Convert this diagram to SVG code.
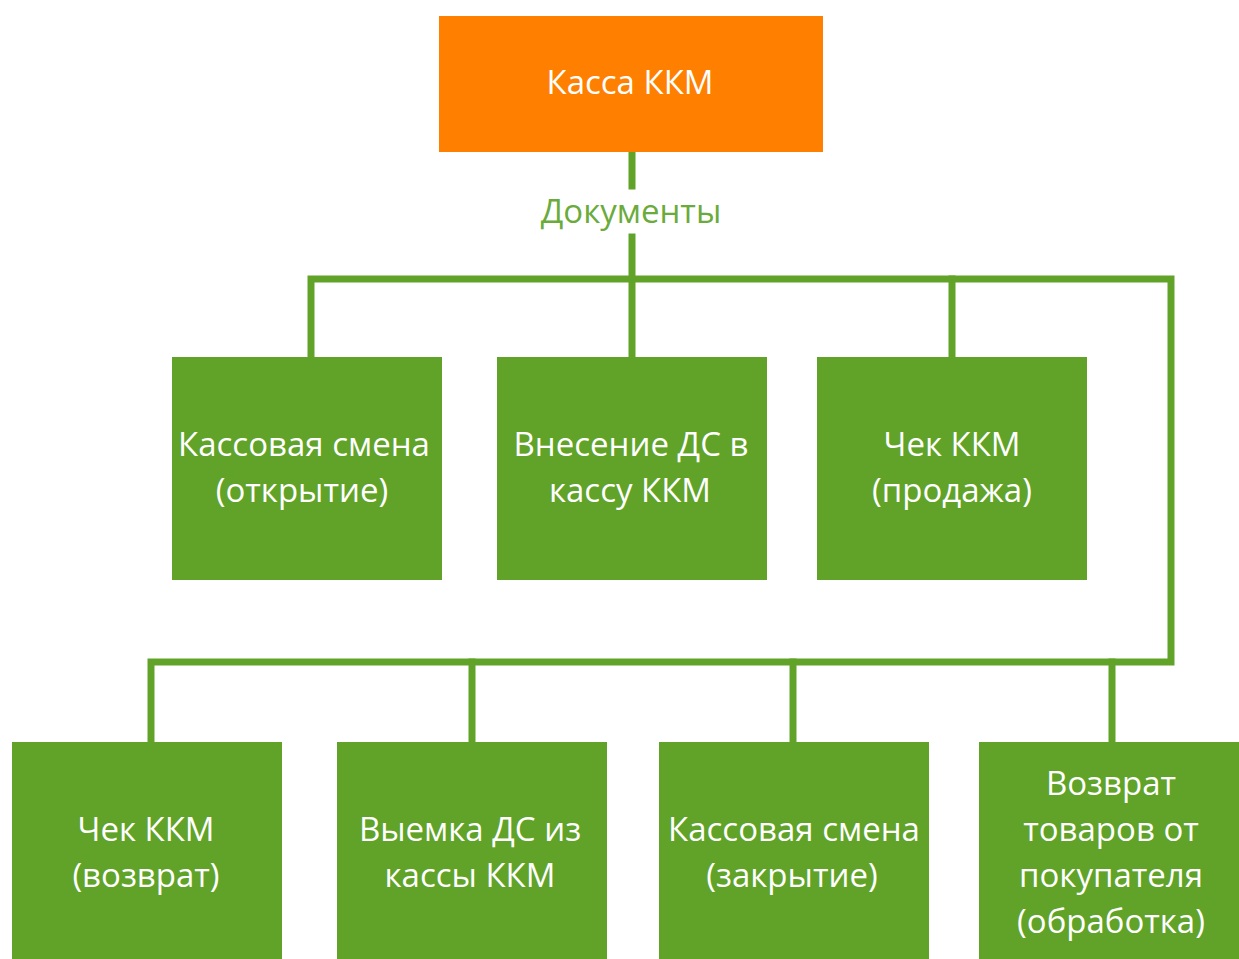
<svg xmlns="http://www.w3.org/2000/svg" width="1239" height="959" viewBox="0 0 1239 959">
<style>
.box{fill:#60a328}
.top{fill:#ff8000}
.t{font-family:"Open Sans","Noto Sans",sans-serif;font-size:33px;fill:#ffffff;text-anchor:middle}
.lbl{font-family:"Open Sans","Noto Sans",sans-serif;font-size:33px;fill:#6aab3c;text-anchor:middle}
.c{stroke:#60a328;stroke-width:7;fill:none;stroke-linecap:square}
</style>
<rect width="1239" height="959" fill="#ffffff"/>
<g id="connectors">
<path class="c" d="M632 152 V186"/>
<path class="c" d="M632 237 V357"/>
<path class="c" d="M311 357 V279 H1171 V662 H151 V742"/>
<path class="c" d="M952 279 V357"/>
<path class="c" d="M472 662 V742"/>
<path class="c" d="M793 662 V742"/>
<path class="c" d="M1112 662 V742"/>
<text class="lbl" x="631" y="223">Документы</text>
</g>
<g id="n0"><rect class="top" x="439" y="16" width="384" height="136"/><text class="t" x="630" y="94">Касса ККМ</text></g>
<g id="n1"><rect class="box" x="172" y="357" width="270" height="223"/><text class="t" x="304" y="456">Кассовая смена</text><text class="t" x="302" y="502">(открытие)</text></g>
<g id="n2"><rect class="box" x="497" y="357" width="270" height="223"/><text class="t" x="631" y="456">Внесение ДС в</text><text class="t" x="630" y="502">кассу ККМ</text></g>
<g id="n3"><rect class="box" x="817" y="357" width="270" height="223"/><text class="t" x="952" y="456">Чек ККМ</text><text class="t" x="952" y="502">(продажа)</text></g>
<g id="n4"><rect class="box" x="12" y="742" width="270" height="217"/><text class="t" x="146" y="841">Чек ККМ</text><text class="t" x="146" y="887">(возврат)</text></g>
<g id="n5"><rect class="box" x="337" y="742" width="270" height="217"/><text class="t" x="470" y="841">Выемка ДС из</text><text class="t" x="470" y="887">кассы ККМ</text></g>
<g id="n6"><rect class="box" x="659" y="742" width="270" height="217"/><text class="t" x="794" y="841">Кассовая смена</text><text class="t" x="792" y="887">(закрытие)</text></g>
<g id="n7"><rect class="box" x="979" y="742" width="260" height="217"/><text class="t" x="1111" y="795">Возврат</text><text class="t" x="1111" y="841">товаров от</text><text class="t" x="1111" y="887">покупателя</text><text class="t" x="1111" y="933">(обработка)</text></g>
</svg>
